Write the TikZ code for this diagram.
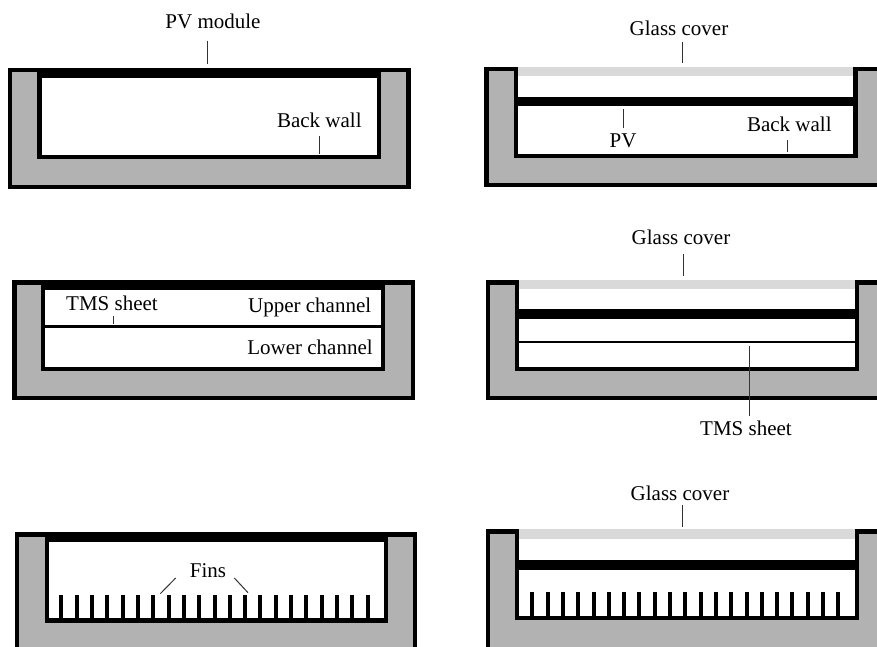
\documentclass[tikz,border=0pt]{standalone}
\usepackage{fontspec}
\setmainfont{Liberation Serif}
\tikzset{
  wall/.style={draw=black,fill=gray!60!white,line width=4.2pt},
  glass/.style={fill=black!15},
  band/.style={fill=black},
  fin/.style={draw=black,line width=4pt},
  lbl/.style={inner sep=0pt,font=\fontsize{21}{24}\selectfont},
  leader/.style={draw=black!80,line width=1pt}
}
\begin{document}
\begin{tikzpicture}[x=1pt,y=-1pt]
    \useasboundingbox (0,0) rectangle (877,647);
    \clip (0,0) rectangle (877,647);
    % troughs
    \foreach \l/\il/\ir/\r/\t/\ib/\b in {10.2/39.5/379/408.5/70.4/157.2/187,14.4/43.3/383/412.6/282.4/368.8/398.2,17.1/46.7/385.7/415.3/534.4/620.5/670,486.4/515.7/855.5/895/69.4/156/185.2,487.8/517.3/857/895/282.4/368.8/398.2,487.8/517.3/857/895/531.4/617.6/670}
      \draw[wall] (\l,\t) -- (\il,\t) -- (\il,\ib) -- (\ir,\ib) -- (\ir,\t) -- (\r,\t) -- (\r,\b) -- (\l,\b) -- cycle;
    % PV plates on the left
    \fill[band] (37.4,68.3) rectangle (381.1,78.3);
    \fill[band] (41.2,280.3) rectangle (385.1,289.7);
    \fill[band] (44.6,532.3) rectangle (387.8,542);
    % glass and PV on the right
    \foreach \t/\g/\pa/\pb/\il/\ir in {67.3/75.7/96.7/106/517.8/853.4,280.3/288.7/309.3/319/519.4/854.9,529.3/539.3/560.3/570/519.4/854.9} {
      \fill[glass] (\il,\t) rectangle (\ir,\g);
      \fill[band] (\il,\pa) rectangle (\ir,\pb);
    }
    % TMS sheets
    \fill[band] (45,325) rectangle (381.5,327.7);
    \fill[band] (519,340.7) rectangle (855.5,343);
    % fins
    \foreach \i in {0,...,20} {
      \draw[fin] ({61.3+\i*15.32},595.3) -- ++(0,24);
      \draw[fin] ({532.3+\i*15.3},592.3) -- ++(0,24);
    }
    % labels
    \node[lbl] (pvmod) at (213,21) {PV module};
    \node[lbl] (wallA) at (319.3,120.7) {Back wall};
    \node[lbl] (glassA) at (679,28) {Glass cover};
    \node[lbl] (pv) at (623,140.7) {PV};
    \node[lbl] (wallB) at (789.3,124) {Back wall};
    \node[lbl] (sheetA) at (112,303.3) {TMS sheet};
    \node[lbl] (upper) at (309.7,307.7) {Upper channel};
    \node[lbl] (lower) at (310,347.3) {Lower channel};
    \node[lbl] (glassB) at (681,237.7) {Glass cover};
    \node[lbl] (sheetB) at (746,428.3) {TMS sheet};
    \node[lbl] (fins) at (208,570.7) {Fins};
    \node[lbl] (glassC) at (680,493.3) {Glass cover};
    % leader ends
    \coordinate (pvmodtip) at (207,64);
    \coordinate (wallAtip) at (319,154);
    \coordinate (glassAtip) at (682,62.7);
    \coordinate (pvtip) at (623.3,109.3);
    \coordinate (wallBtip) at (787,151.7);
    \coordinate (sheetAtip) at (113.7,323.7);
    \coordinate (glassBtip) at (683.3,275.7);
    \coordinate (sheetBtip) at (749,346);
    \coordinate (finsLtip) at (160.3,593.7);
    \coordinate (finsRtip) at (248,592.7);
    \coordinate (glassCtip) at (682,526.7);
    \draw[leader,shorten <=12pt] (pvmod.south -| pvmodtip) -- (pvmodtip);
    \draw[leader,shorten <=8pt] (wallA.south -| wallAtip) -- (wallAtip);
    \draw[leader,shorten <=6pt] (glassA.south -| glassAtip) -- (glassAtip);
    \draw[leader,shorten <=5pt] (pv.north -| pvtip) -- (pvtip);
    \draw[leader,shorten <=8pt] (wallB.south -| wallBtip) -- (wallBtip);
    \draw[leader,shorten <=5pt] (sheetA.south -| sheetAtip) -- (sheetAtip);
    \draw[leader,shorten <=9pt] (glassB.south -| glassBtip) -- (glassBtip);
    \draw[leader,shorten <=5pt] (sheetB.north -| sheetBtip) -- (sheetBtip);
    \draw[leader] ([xshift=-14pt]fins.south west) -- (finsLtip);
    \draw[leader] ([xshift=8pt]fins.south east) -- (finsRtip);
    \draw[leader,shorten <=4pt] (glassC.south -| glassCtip) -- (glassCtip);
  \end{tikzpicture}
\end{document}
